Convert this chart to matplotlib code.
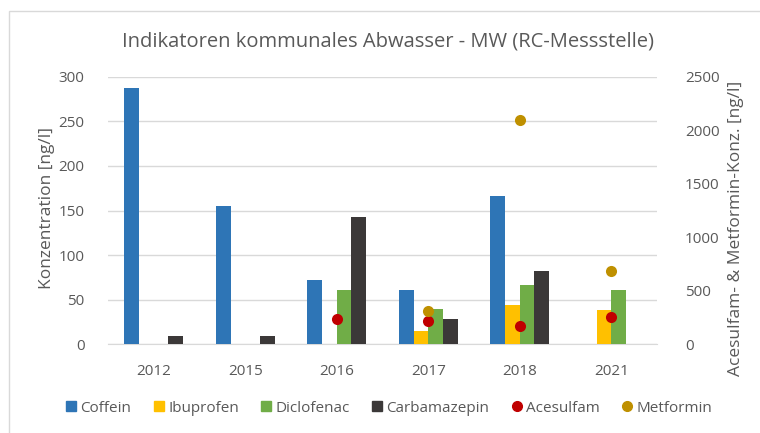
import matplotlib
matplotlib.use("Agg")
import matplotlib.pyplot as plt
import numpy as np
from matplotlib.lines import Line2D
from matplotlib.patches import Rectangle

years = ["2012", "2015", "2016", "2017", "2018", "2021"]
coffein = [287, 155, 72, 61, 166, np.nan]
ibuprofen = [np.nan, np.nan, np.nan, 15, 44, 39]
diclofenac = [np.nan, np.nan, 61, 40, 66, 61]
carbamazepin = [9, 9, 143, 28, 82, np.nan]
acesulfam = [np.nan, np.nan, 233, 218, 171, 258]
metformin = [np.nan, np.nan, np.nan, 308, 2098, 682]

bar_series = [("Coffein", coffein, "#2E75B6"),
              ("Ibuprofen", ibuprofen, "#FFC000"),
              ("Diclofenac", diclofenac, "#70AD47"),
              ("Carbamazepin", carbamazepin, "#3B3838")]
dot_series = [("Acesulfam", acesulfam, "#C00000"),
              ("Metformin", metformin, "#BF9000")]

plt.rcParams['font.family'] = ['Open Sans', 'DejaVu Sans']
txt = "#595959"

W, H = 760, 433
fig = plt.figure(figsize=(W / 100, H / 100), dpi=100)
ax = fig.add_axes([108 / W, 1 - 344.3 / H, (657 - 108) / W, (344.3 - 76.7) / H])
ax2 = ax.twinx()

x = np.arange(len(years))
bw = 0.16
for i, (name, vals, col) in enumerate(bar_series):
    ax.bar(x + (i - 1.5) * bw, vals, width=bw, color=col, zorder=3)

ax.set_zorder(1)
ax2.set_zorder(2)
ax.patch.set_visible(True)
ax2.patch.set_visible(False)
for name, vals, col in dot_series:
    ax2.plot(x, vals, 'o', color=col, markersize=8, markeredgewidth=0, zorder=4)

ax.set_xlim(-0.5, len(years) - 0.5)
ax.set_ylim(0, 300)
ax.set_yticks(np.arange(0, 301, 50))
ax2.set_ylim(0, 2500)
ax2.set_yticks(np.arange(0, 2501, 500))
ax.set_xticks(x)
ax.set_xticklabels(years)

ax.grid(axis='y', color='#D9D9D9', linewidth=1, zorder=0)
ax.set_axisbelow(True)
for a in (ax, ax2):
    for s in a.spines.values():
        s.set_visible(False)
    a.tick_params(length=0, colors=txt, labelsize=11)
ax.spines['bottom'].set_visible(True)
ax.spines['bottom'].set_color('#D9D9D9')
ax.tick_params(axis='x', pad=14)
ax.tick_params(axis='y', pad=17)
ax2.tick_params(axis='y', pad=20)

fig.text(47 / W, 1 - 208 / H, "Konzentration [ng/l]", rotation=90,
         ha='center', va='center', color=txt, fontsize=12.5)
fig.text(736 / W, 1 - 228 / H, "Acesulfam- & Metformin-Konz. [ng/l]", rotation=90,
         ha='center', va='center', color=txt, fontsize=12.5)

fig.text(388 / W, 1 - 42 / H, "Indikatoren kommunales Abwasser - MW (RC-Messstelle)",
         ha='center', va='center', color=txt, fontsize=14.5)

handles = [Line2D([], [], marker='s', linestyle='', color=c, markersize=7) for _, _, c in bar_series]
handles += [Line2D([], [], marker='o', linestyle='', color=c, markersize=7) for _, _, c in dot_series]
labels = [n for n, _, _ in bar_series] + [n for n, _, _ in dot_series]
fig.legend(handles, labels, loc='center', bbox_to_anchor=(388 / W, 1 - 408 / H), ncol=6,
           frameon=False, fontsize=11, handletextpad=0.1, columnspacing=1.3,
           labelcolor=txt, handlelength=1.0)

fig.patches.append(Rectangle((9 / W, -0.1), 1.2, 1 - 11 / H + 0.1, transform=fig.transFigure,
                             fill=False, edgecolor='#D9D9D9', linewidth=1))

fig.savefig("out.png", dpi=100)
